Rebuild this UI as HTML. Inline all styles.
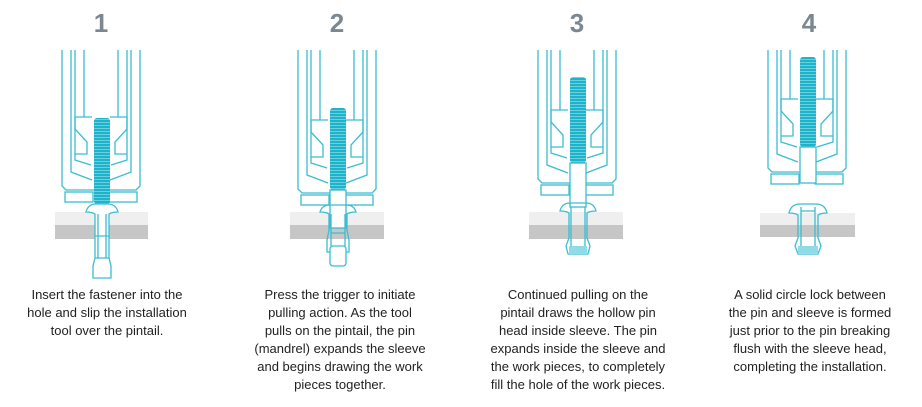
<!DOCTYPE html>
<html><head><meta charset="utf-8"><style>
html,body{margin:0;padding:0;background:#fff;width:922px;height:407px;overflow:hidden}
svg{display:block}
.t{font-family:"Liberation Sans",sans-serif;font-size:13px;fill:#222;text-anchor:middle}
.n{font-family:"Liberation Sans",sans-serif;font-size:26px;font-weight:bold;fill:#7b8791;text-anchor:middle}
.l{fill:none;stroke:#3cbdd0;stroke-width:1.3}
</style></head><body>
<svg width="922" height="407" viewBox="0 0 922 407">
<defs>
<pattern id="th" width="4" height="3" patternUnits="userSpaceOnUse"><rect width="4" height="3" fill="#1fb3cb"/><rect y="2.2" width="4" height="0.8" fill="#7fd6e3"/></pattern>
<clipPath id="cp"><rect x="0" y="50" width="922" height="400"/></clipPath>
<g id="tool">
<path class="l" d="M-39,-170 V-16 L-35,-12 H35 L39,-16 V-170"/>
<rect class="l" x="-36" y="-10" width="28" height="10"/>
<rect class="l" x="8" y="-10" width="28" height="10"/>
<path class="l" d="M-30,-170 V-30 L-9,-22 M30,-170 V-30 L9,-22"/>
<path class="l" d="M-26,-170 V-42 L-10,-37 M26,-170 V-42 L10,-37"/>
<path class="l" d="M-17,-170 V-85 M17,-170 V-85"/>
<path class="l" d="M-9,-85 H-26 V-73 L-14,-60 V-48 H-26 M9,-85 H26 V-73 L14,-60 V-48 H26"/>
</g>
</defs>
<text class="n" x="101" y="32">1</text>
<text class="n" x="337" y="32">2</text>
<text class="n" x="577" y="32">3</text>
<text class="n" x="809" y="32">4</text>
<!-- plates -->
<rect x="55" y="212" width="93" height="13" fill="#efefef"/><rect x="55" y="225" width="93" height="14" fill="#c6c6c6"/>
<rect x="290" y="212" width="94" height="13" fill="#efefef"/><rect x="290" y="225" width="94" height="14" fill="#c6c6c6"/>
<rect x="529" y="212" width="94" height="13" fill="#efefef"/><rect x="529" y="225" width="94" height="14" fill="#c6c6c6"/>
<rect x="760" y="213" width="95" height="12" fill="#efefef"/><rect x="760" y="225" width="95" height="12" fill="#c6c6c6"/>
<g clip-path="url(#cp)">
<use href="#tool" transform="translate(101,202)"/>
<use href="#tool" transform="translate(337,205)"/>
<use href="#tool" transform="translate(577,195)"/>
<use href="#tool" transform="translate(807,184)"/>
</g>
<!-- pin 1 -->
<rect x="94" y="118" width="16" height="86" rx="3" fill="url(#th)"/>
<path class="l" fill="#fff" d="M86,212 Q88,204 96,204 H108 Q116,204 118,212 Q112,212 109,214 V258 H95 V214 Q92,212 86,212Z" style="fill:#fff"/>
<path class="l" d="M98,214 V258 M106,214 V258 M95,236 H109"/>
<path class="l" d="M95,258 L93,266 V278 H111 V266 L109,258"/>
<!-- pin 2 -->
<rect x="330" y="108" width="16" height="82" rx="3" fill="url(#th)"/>
<rect class="l" x="330" y="190" width="16" height="38" style="fill:#fff"/>
<path class="l" d="M320,212 Q322,205 330,205 H346 Q354,205 356,212 Q350,212 347,214 V230 L349,240 V252 H327 V240 L329,230 V214 Q326,212 320,212Z" fill="#d5f0f5"/>
<path class="l" d="M331,214 V246 M345,214 V246 M331,233 H345"/>
<rect class="l" x="330" y="246" width="16" height="20" rx="3" style="fill:#fff"/>
<!-- pin 3 -->
<rect x="570" y="77" width="16" height="86" rx="3" fill="url(#th)"/>
<rect class="l" x="570" y="163" width="16" height="44" style="fill:#fff"/>
<path class="l" d="M560,211 Q562,203 570,203 H586 Q594,203 596,211 Q590,211 587,213 V238 L590,246 L588,254 H568 L566,246 L569,238 V213 Q566,211 560,211Z" fill="#d5f0f5"/>
<path class="l" d="M571,207 V246 M585,207 V246"/>
<rect x="569" y="246" width="18" height="8" fill="#8fdbe7"/>
<!-- pin 4 -->
<rect x="800" y="57" width="16" height="90" rx="3" fill="url(#th)"/>
<rect class="l" x="800" y="147" width="16" height="36" style="fill:#fff"/>
<path class="l" d="M789,213 Q791,204 800,204 H816 Q825,204 827,213 Q821,213 818,215 V238 L821,246 L818,254 H798 L795,246 L798,238 V215 Q795,213 789,213Z" fill="#d5f0f5"/>
<path class="l" d="M801,207 V246 M815,207 V246 M801,211 H815"/>
<rect x="798" y="246" width="20" height="8" fill="#8fdbe7"/>
<!-- text -->
<text class="t" x="107" y="299">Insert the fastener into the</text>
<text class="t" x="107" y="317">hole and slip the installation</text>
<text class="t" x="107" y="335">tool over the pintail.</text>
<text class="t" x="340" y="299">Press the trigger to initiate</text>
<text class="t" x="340" y="317">pulling action. As the tool</text>
<text class="t" x="340" y="335">pulls on the pintail, the pin</text>
<text class="t" x="340" y="353">(mandrel) expands the sleeve</text>
<text class="t" x="340" y="371">and begins drawing the work</text>
<text class="t" x="340" y="389">pieces together.</text>
<text class="t" x="578" y="299">Continued pulling on the</text>
<text class="t" x="578" y="317">pintail draws the hollow pin</text>
<text class="t" x="578" y="335">head inside sleeve. The pin</text>
<text class="t" x="578" y="353">expands inside the sleeve and</text>
<text class="t" x="578" y="371">the work pieces, to completely</text>
<text class="t" x="578" y="389">fill the hole of the work pieces.</text>
<text class="t" x="810" y="299">A solid circle lock between</text>
<text class="t" x="810" y="317">the pin and sleeve is formed</text>
<text class="t" x="810" y="335">just prior to the pin breaking</text>
<text class="t" x="810" y="353">flush with the sleeve head,</text>
<text class="t" x="810" y="371">completing the installation.</text>
</svg>
</body></html>
